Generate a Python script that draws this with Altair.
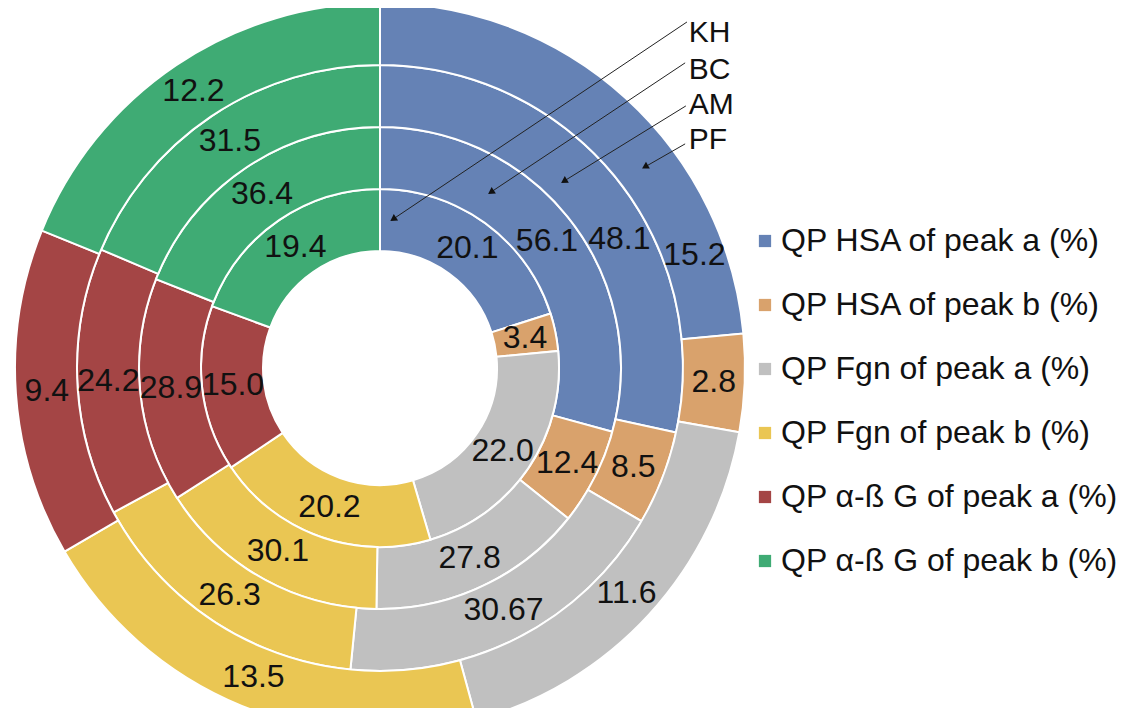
import altair as alt
import pandas as pd

# ---------------- data ----------------
rings = ["KH", "BC", "AM", "PF"]  # inner -> outer
categories = [
    "QP HSA of peak a (%)",
    "QP HSA of peak b (%)",
    "QP Fgn of peak a (%)",
    "QP Fgn of peak b (%)",
    "QP α-ß G of peak a (%)",
    "QP α-ß G of peak b (%)",
]
kh_values = [20.1, 3.4, 22.0, 20.2, 15.0, 19.4]
bc_values = [56.1, 12.4, 27.8, 30.1, 28.9, 36.4]
am_values = [48.1, 8.5, 30.67, 26.3, 24.2, 31.5]
pf_values = [15.2, 2.8, 11.6, 13.5, 9.4, 12.2]
ring_values = [kh_values, bc_values, am_values, pf_values]

# annotation (ring name callouts)
callout_names = ["KH", "BC", "AM", "PF"]

# ---------------- style / layout ----------------
colors = ["#6582B5", "#D9A26C", "#C0C0C0", "#EAC653", "#A44545", "#3FAB74"]
label_shift_deg = {("AM", 0): 10.5, ("PF", 0): 28.0}  # manually moved labels

W, H = 1118, 700
CX, CY, R = 372, 360, 365
HOLE = 117
x_dom = [-CX / R, (W - CX) / R]
y_dom = [-(H - CY) / R, CY / R]

# callout geometry in donut-radius units (y up)
callout_text_x = [0.846, 0.846, 0.846, 0.846]
callout_text_y = [0.918, 0.816, 0.721, 0.625]
callout_x1 = [0.841, 0.836, 0.838, 0.836]
callout_y1 = [0.948, 0.836, 0.718, 0.614]
callout_x2 = [0.036, 0.304, 0.504, 0.726]
callout_y2 = [0.408, 0.482, 0.512, 0.551]


def fmt(v):
    return f"{v:.1f}" if round(v, 1) == v else f"{v:.2f}"


rows = []
for ri, (ring, vals) in enumerate(zip(rings, ring_values)):
    for ci, (cat, v) in enumerate(zip(categories, vals)):
        rows.append(
            dict(ring=ring, ring_idx=ri, category=cat, order=ci, value=v,
                 label=fmt(v), shift=label_shift_deg.get((ring, ci), 0.0))
        )
df = pd.DataFrame(rows)

ann = pd.DataFrame(dict(name=callout_names, tx=callout_text_x, ty=callout_text_y,
                        x1=callout_x1, y1=callout_y1, x2=callout_x2, y2=callout_y2))

xs = alt.Scale(domain=x_dom)
ys = alt.Scale(domain=y_dom)
theta_scale = alt.Scale(domain=[0, 1], range=[0, 6.283185307179586])
radius_scale = alt.Scale(type="linear", domain=[0, 4], range=[HOLE, R], zero=False)

xc = alt.XDatum(datum=0, type="quantitative", scale=xs, axis=None)
yc = alt.YDatum(datum=0, type="quantitative", scale=ys, axis=None)

prep = (
    alt.Chart(df)
    .transform_joinaggregate(total="sum(value)", groupby=["ring"])
    .transform_window(cum="sum(value)", groupby=["ring"],
                      sort=[alt.SortField("order", order="ascending")], frame=[None, 0])
    .transform_calculate(
        t0="(datum.cum - datum.value) / datum.total",
        t1="datum.cum / datum.total",
        tm="(datum.cum - datum.value / 2) / datum.total + datum.shift / 360",
        r0="datum.ring_idx",
        r1="datum.ring_idx + 1",
        rm="datum.ring_idx + 0.5",
    )
)

arcs = prep.mark_arc(stroke="white", strokeWidth=2).encode(
    x=xc,
    y=yc,
    theta=alt.Theta("t0:Q", stack=None, scale=theta_scale),
    theta2=alt.Theta2("t1:Q"),
    radius=alt.Radius("r0:Q", scale=radius_scale),
    radius2=alt.Radius2("r1:Q"),
    color=alt.Color(
        "category:N",
        scale=alt.Scale(domain=categories, range=colors),
        legend=alt.Legend(
            title=None, orient="none", legendX=741, legendY=217,
            symbolType="square", symbolSize=150, symbolStrokeWidth=0,
            labelFontSize=32, labelFont="Liberation Sans", labelColor="#111111",
            labelOffset=0, rowPadding=32, labelLimit=0,
        ),
    ),
    order=alt.Order("order:Q"),
)

labels = prep.mark_text(fontSize=32, font="Liberation Sans", color="#111111").encode(
    x=xc,
    y=yc,
    theta=alt.Theta("tm:Q", stack=None, scale=theta_scale),
    radius=alt.Radius("rm:Q", scale=radius_scale),
    text="label:N",
)

ann_base = alt.Chart(ann)
lines = ann_base.mark_rule(color="#222222", strokeWidth=1).encode(
    x=alt.X("x1:Q", scale=xs, axis=None),
    y=alt.Y("y1:Q", scale=ys, axis=None),
    x2="x2:Q",
    y2="y2:Q",
)
heads = (
    ann_base.transform_calculate(
        ang="(atan2(datum.x2 - datum.x1, datum.y2 - datum.y1) * 180 / PI + 360) % 360"
    )
    .mark_point(shape="triangle-up", filled=True, size=60, color="#111111", opacity=1)
    .encode(
        x=alt.X("x2:Q", scale=xs, axis=None),
        y=alt.Y("y2:Q", scale=ys, axis=None),
        angle=alt.Angle("ang:Q", scale=None),
    )
)
names = ann_base.mark_text(fontSize=30, font="Liberation Sans", color="#111111",
                           align="left", baseline="middle").encode(
    x=alt.X("tx:Q", scale=xs, axis=None),
    y=alt.Y("ty:Q", scale=ys, axis=None),
    text="name:N",
)

chart = (
    alt.layer(arcs, labels, lines, heads, names)
    .properties(width=W, height=H, padding=0,
                autosize=alt.AutoSizeParams(type="none"))
    .configure_view(stroke=None)
)

chart.save("out.html", embed_options={"renderer": "svg", "actions": False})
